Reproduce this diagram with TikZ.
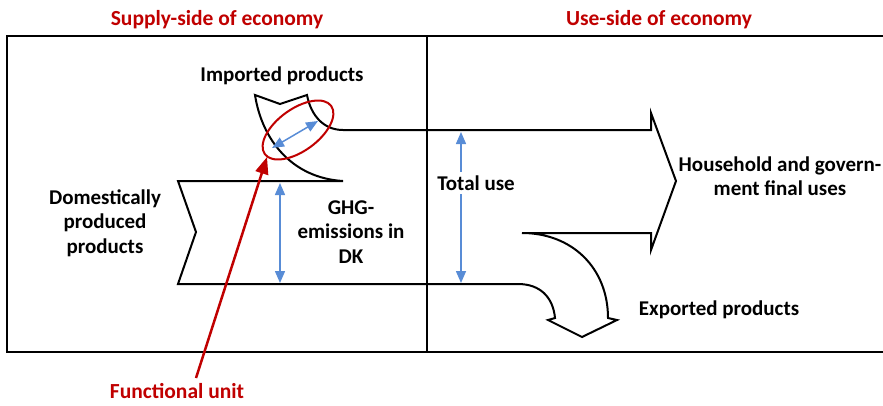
\documentclass[tikz,border=0pt]{standalone}
\usepackage{fontspec}
\setmainfont{Carlito}
\usetikzlibrary{arrows.meta}
\definecolor{darkred}{RGB}{192,0,0}
\definecolor{blu}{RGB}{88,140,214}
\tikzset{
  lbl/.style={font=\bfseries\fontsize{21}{24.5}\selectfont, align=center, inner sep=0pt},
  redlbl/.style={lbl, text=darkred, font=\bfseries\fontsize{21.5}{24.5}\selectfont},
  outline/.style={draw=black, line width=2pt, line join=miter},
  bluarrow/.style={draw=blu, line width=1.5pt, {Triangle[length=12pt,width=10pt]}-{Triangle[length=12pt,width=10pt]}},
  redarrow/.style={draw=darkred, line width=2.5pt, -{Triangle[length=17pt,width=13pt]}}
}
\begin{document}
\begin{tikzpicture}[x=1pt,y=-1pt]
\useasboundingbox (0,0) rectangle (883,405);
% frame
\draw[line width=2pt] (7,36) rectangle (886,352);
\draw[line width=2pt] (427,36) -- (427,352);
% headers
\node[redlbl] (supply) at (217,20) {Supply-side of economy};
\node[redlbl] (use) at (659,20) {Use-side of economy};
% flow outline
\draw[outline] (651,233) -- (522,233)
  .. controls (572,233) and (608,268) .. (608,318)
  -- (617,320) -- (582,337) -- (548,320) -- (555,318)
  .. controls (553,297) and (540,284) .. (518,284)
  -- (178,284) -- (196,232) -- (178,181) -- (343,181)
  .. controls (292,178) and (262,140) .. (255,95)
  -- (280,104) -- (307,95)
  .. controls (311,116) and (324,130) .. (343,130)
  -- (651,130) -- (651,113) -- (676,181) -- (651,250) -- cycle;
% blue arrows
\coordinate (g1) at (280,183);
\coordinate (g2) at (280,283);
\coordinate (t1) at (461,132);
\coordinate (t2) at (461,283);
\coordinate (f1) at (272,148);
\coordinate (f2) at (318,121);
\draw[bluarrow] (g1) -- (g2);
\draw[bluarrow] (t1) -- (t2);
\draw[bluarrow] (f1) -- (f2);
% texts
\node[lbl] (imp) at (282,76) {Imported products};
\node[lbl] (dom) at (105,223) {Domestically\\produced\\products};
\node[lbl] (ghg) at (351,232) {GHG-\\emissions in\\DK};
\node[lbl, fill=white, inner xsep=1pt, inner ysep=4pt] (tot) at (476,183) {Total use};
\node[lbl] (hh) at (780,176) {Household and govern-\\ment final uses};
\node[lbl] (exp) at (719,310) {Exported products};
\node[redlbl] (fu) at (177,391) {Functional unit};
% ellipse
\draw[darkred, line width=2pt, rotate around={36:(298,130)}] (298,130) ellipse [x radius=41pt, y radius=21pt];
% red arrow
\coordinate (r0) at (196,378);
\coordinate (r1) at (267,157);
\draw[redarrow] (r0) -- (r1);
\end{tikzpicture}
\end{document}
